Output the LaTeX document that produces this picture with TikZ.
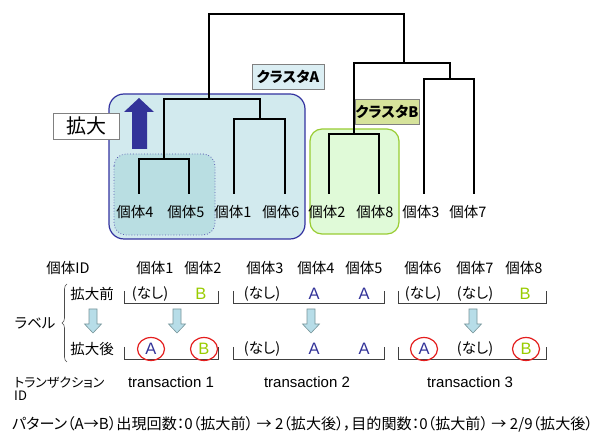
\documentclass[tikz,border=0pt]{standalone}
\usepackage{fontspec}
\setmainfont[RawFeature=+palt]{Noto Sans CJK JP}
\newfontfamily\lat{Liberation Sans}
\usetikzlibrary{decorations.pathreplacing}
\definecolor{clAfill}{RGB}{210,234,238}
\definecolor{clAline}{RGB}{51,51,160}
\definecolor{innerfill}{RGB}{185,222,226}
\definecolor{clBfill}{RGB}{224,250,216}
\definecolor{clBline}{RGB}{153,204,51}
\definecolor{labAfill}{RGB}{219,238,243}
\definecolor{labBfill}{RGB}{214,227,155}
\definecolor{bigarrow}{RGB}{51,51,153}
\definecolor{darrfill}{RGB}{183,221,232}
\definecolor{darrline}{RGB}{120,150,155}
\definecolor{Acol}{RGB}{51,51,153}
\definecolor{Bcol}{RGB}{153,204,0}
\definecolor{redc}{RGB}{228,30,30}
\tikzset{
  txt/.style={inner sep=0pt, font=\fontsize{14.5}{16}\selectfont},
  ltxt/.style={inner sep=0pt, font=\fontsize{15}{17}\selectfont\lat},
  abtxt/.style={inner sep=0pt, font=\fontsize{16.5}{18}\selectfont\lat},
  dendro/.style={line width=1.3pt, black},
  brk/.style={line width=0.8pt, black!75},
  tagbox/.style={draw=gray, line width=0.8pt, inner sep=0pt, font=\fontsize{14.5}{16}\selectfont\bfseries},
  circ/.style={draw=redc, line width=1.2pt},
  downarr/.pic={\draw[fill=darrfill, draw=darrline, line width=0.6pt] (-4,0) -- (-4,15) -- (-8.5,15) -- (0,24) -- (8.5,15) -- (4,15) -- (4,0) -- cycle;}
}
\begin{document}
\begin{tikzpicture}[x=1pt, y=-1pt]
\useasboundingbox (0,0) rectangle (600,435);
\fill[white] (0,0) rectangle (600,435);
% cluster boxes
\draw[fill=clAfill, draw=clAline, line width=1.2pt, rounded corners=15pt] (109,94) rectangle (305,239);
\draw[fill=innerfill, draw=clAline!80, line width=0.8pt, dotted, rounded corners=12pt] (114,154) rectangle (215,235);
\draw[fill=clBfill, draw=clBline, line width=1.2pt, rounded corners=12pt] (310,129) rectangle (399,234);
% big arrow
\fill[bigarrow] (132,149) -- (132,112) -- (124,112) -- (139,98) -- (154,112) -- (147,112) -- (147,149) -- cycle;
% dendrogram coordinates
\coordinate (l4) at (139,194); \coordinate (l5) at (189,194);
\coordinate (l1) at (234,194); \coordinate (l6) at (285,194);
\coordinate (l2) at (329,194); \coordinate (l8) at (379,194);
\coordinate (l3) at (424,194); \coordinate (l7) at (474,194);
\coordinate (j45) at (164,159); \coordinate (j16) at (260,119);
\coordinate (jA) at (209,99); \coordinate (j28) at (354,134);
\coordinate (j37) at (450,79); \coordinate (jR) at (404,63);
\coordinate (jT) at (306,14);
\draw[dendro] (l4) |- (j45) -| (l5);
\draw[dendro] (l1) |- (j16) -| (l6);
\draw[dendro] (j45) |- (jA) -| (j16);
\draw[dendro] (l2) |- (j28) -| (l8);
\draw[dendro] (l3) |- (j37) -| (l7);
\draw[dendro] (j28) |- (jR) -| (j37);
\draw[dendro] (jA) |- (jT) -| (jR);
% tags
\node[tagbox, fill=labAfill, minimum width=72pt, minimum height=25pt] (tagA) at (288,76.5) {クラスタA};
\node[tagbox, fill=labBfill, minimum width=64pt, minimum height=25pt] (tagB) at (387,111.5) {クラスタB};
\node[draw=gray, line width=0.8pt, fill=white, inner sep=0pt, minimum width=66pt, minimum height=26pt, font=\fontsize{20}{22}\selectfont] (kakudai) at (86,126) {拡大};
% leaf labels
\node[txt] (n4) at (135,212) {個体4};
\node[txt] (n5) at (186,212) {個体5};
\node[txt] (n1) at (233,212) {個体1};
\node[txt] (n6) at (281,212) {個体6};
\node[txt] (n2) at (327,212) {個体2};
\node[txt] (n8) at (375,212) {個体8};
\node[txt] (n3) at (421,212) {個体3};
\node[txt] (n7) at (468,212) {個体7};
% bottom table header
\node[txt] (idh) at (68,268) {個体ID};
\node[txt] (h1) at (155,268) {個体1};
\node[txt] (h2) at (203,268) {個体2};
\node[txt] (h3) at (265,268) {個体3};
\node[txt] (h4) at (316,268) {個体4};
\node[txt] (h5) at (364,268) {個体5};
\node[txt] (h6) at (423,268) {個体6};
\node[txt] (h7) at (475,268) {個体7};
\node[txt] (h8) at (524,268) {個体8};
% row labels
\node[txt] (mae) at (92,294) {拡大前};
\node[txt] (ato) at (92,349) {拡大後};
\node[txt] (label) at (35,323) {ラベル};
\draw[decorate, decoration={brace, amplitude=5pt}, line width=0.6pt, black!70] (67,362) -- (67,284);
% brackets
\draw[brk] (124,291) -- (124,303) -- (218,303) -- (218,291);
\draw[brk] (233,291) -- (233,303) -- (384,303) -- (384,291);
\draw[brk] (398,291) -- (398,303) -- (546,303) -- (546,291);
\draw[brk] (124,347) -- (124,359) -- (218,359) -- (218,347);
\draw[brk] (233,347) -- (233,359) -- (384,359) -- (384,347);
\draw[brk] (398,347) -- (398,359) -- (546,359) -- (546,347);
% before values
\node[txt] (b1) at (150,294) {(なし)};
\node[abtxt, text=Bcol] (b2) at (201,294) {B};
\node[txt] (b3) at (262,294) {(なし)};
\node[abtxt, text=Acol] (b4) at (314,294) {A};
\node[abtxt, text=Acol] (b5) at (364,294) {A};
\node[txt] (b6) at (423,294) {(なし)};
\node[txt] (b7) at (475,294) {(なし)};
\node[abtxt, text=Bcol] (b8) at (525,294) {B};
% after values
\node[abtxt, text=Acol] (a1) at (151,349) {A};
\node[abtxt, text=Bcol] (a2) at (204,349) {B};
\node[txt] (a3) at (262,349) {(なし)};
\node[abtxt, text=Acol] (a4) at (314,349) {A};
\node[abtxt, text=Acol] (a5) at (364,349) {A};
\node[abtxt, text=Acol] (a6) at (424,349) {A};
\node[txt] (a7) at (475,349) {(なし)};
\node[abtxt, text=Bcol] (a8) at (526,349) {B};
\draw[circ] (a1) ellipse (13.5 and 11.5);
\draw[circ] (a2) ellipse (13.5 and 11.5);
\draw[circ] (a6) ellipse (13.5 and 11.5);
\draw[circ] (a8) ellipse (13.5 and 11.5);
% down arrows
\pic at (93,309) {downarr};
\pic at (177,309) {downarr};
\pic at (311,309) {downarr};
\pic at (473,309) {downarr};
% transaction ids
\node[txt, anchor=west, align=left, font=\fontsize{13}{13.5}\selectfont] (tid) at (14,389) {トランザクション\\ID};
\node[ltxt] (t1) at (171,382) {transaction 1};
\node[ltxt] (t2) at (307,382) {transaction 2};
\node[ltxt] (t3) at (470,382) {transaction 3};
% bottom text
\node[txt, anchor=west, font=\fontsize{15.1}{17}\selectfont] (summary) at (12,424) {パターン（A→B）出現回数：0（拡大前） → 2（拡大後），目的関数：0（拡大前） → 2/9（拡大後）};
\end{tikzpicture}
\end{document}
